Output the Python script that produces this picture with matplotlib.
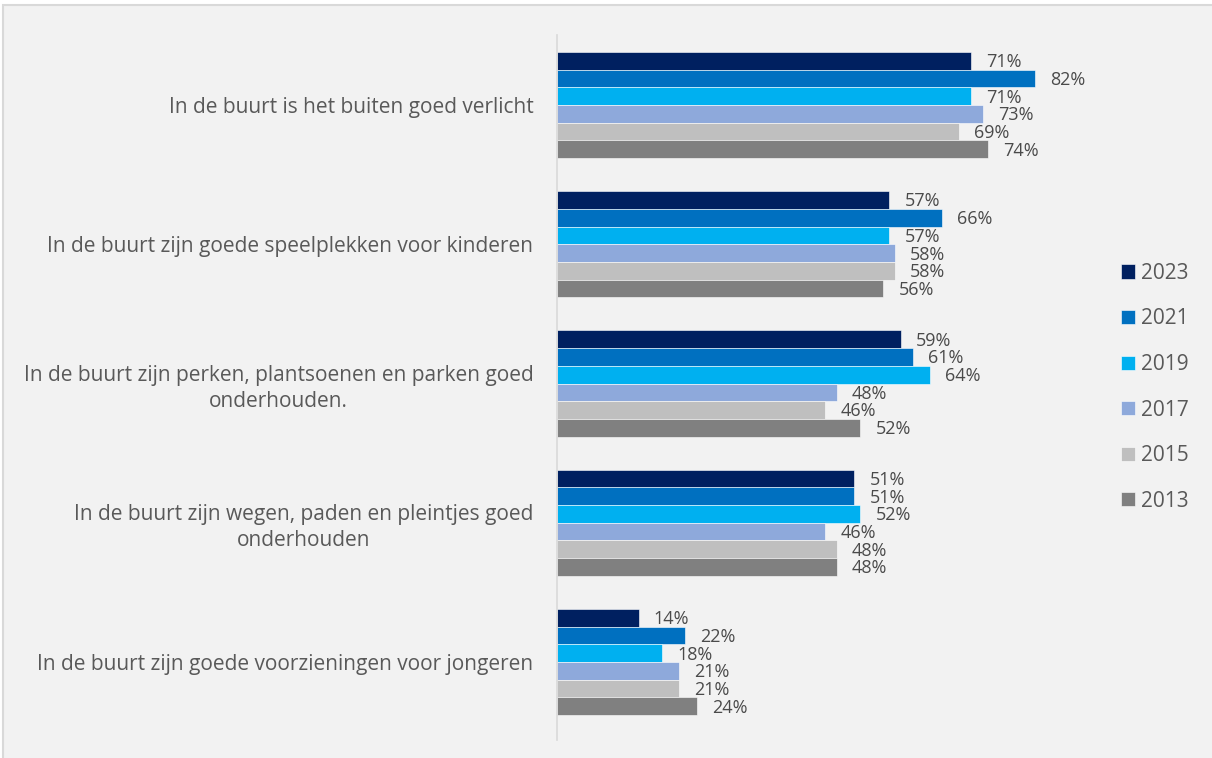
import numpy as np
import matplotlib.pyplot as plt
from matplotlib.patches import Rectangle

# Categories (top to bottom) and values per year
categories = [
    "In de buurt is het buiten goed verlicht",
    "In de buurt zijn goede speelplekken voor kinderen",
    "In de buurt zijn perken, plantsoenen en parken goed\nonderhouden.",
    "In de buurt zijn wegen, paden en pleintjes goed\nonderhouden",
    "In de buurt zijn goede voorzieningen voor jongeren",
]
years = ["2023", "2021", "2019", "2017", "2015", "2013"]
v2023 = [71, 57, 59, 51, 14]
v2021 = [82, 66, 61, 51, 22]
v2019 = [71, 57, 64, 52, 18]
v2017 = [73, 58, 48, 46, 21]
v2015 = [69, 58, 46, 48, 21]
v2013 = [74, 56, 52, 48, 24]
series = [v2023, v2021, v2019, v2017, v2015, v2013]
colors = ["#002060", "#0070C0", "#00B0F0", "#8EA9DB", "#BFBFBF", "#808080"]

plt.rcParams['font.family'] = ['Open Sans', 'DejaVu Sans']
text_col = "#595959"

fig = plt.figure(figsize=(12.12, 7.58), dpi=100)
fig.patch.set_facecolor("white")
# chart area background with thin border
fig.patches.append(Rectangle((3 / 1212, -0.01), 1, 1 - 5 / 758 + 0.01,
                             transform=fig.transFigure, facecolor="#F2F2F2",
                             edgecolor="#D9D9D9", linewidth=1.5, zorder=-10))

ax = fig.add_axes([557 / 1212, 18 / 758, (1140 - 557) / 1212, (740 - 35) / 758])
ax.set_facecolor("none")

y = np.arange(len(categories))
h = 0.127
for j, (vals, col, yr) in enumerate(zip(series, colors, years)):
    pos = y + (j - 2.5) * h
    ax.barh(pos, vals, height=h, color=col, edgecolor="white", linewidth=0.4, label=yr)
    for p, v in zip(pos, vals):
        ax.text(v + 2.6, p + 0.01, f"{v}%", va="center", ha="left",
                fontsize=13, color="#4a4a4a")

ax.set_xlim(0, 100)
ax.set_ylim(4.56, -0.503)
ax.set_yticks(y)
ax.set_yticklabels(categories, fontsize=15, color=text_col, linespacing=1.3)
for lbl in ax.get_yticklabels():
    lbl.set_multialignment("center")
ax.tick_params(axis='y', length=0, pad=17)
ax.set_xticks([])
for s in ["top", "right", "bottom"]:
    ax.spines[s].set_visible(False)
ax.spines["left"].set_color("#D9D9D9")
ax.spines["left"].set_linewidth(1.2)

leg = fig.legend(loc="upper left", bbox_to_anchor=(1102 / 1212, 1 - 244 / 758),
                 frameon=False, fontsize=15, handlelength=0.67, handleheight=0.67,
                 labelspacing=1.18, handletextpad=0.3)
for t in leg.get_texts():
    t.set_color(text_col)

fig.savefig("out.png", dpi=100, facecolor=fig.get_facecolor())
